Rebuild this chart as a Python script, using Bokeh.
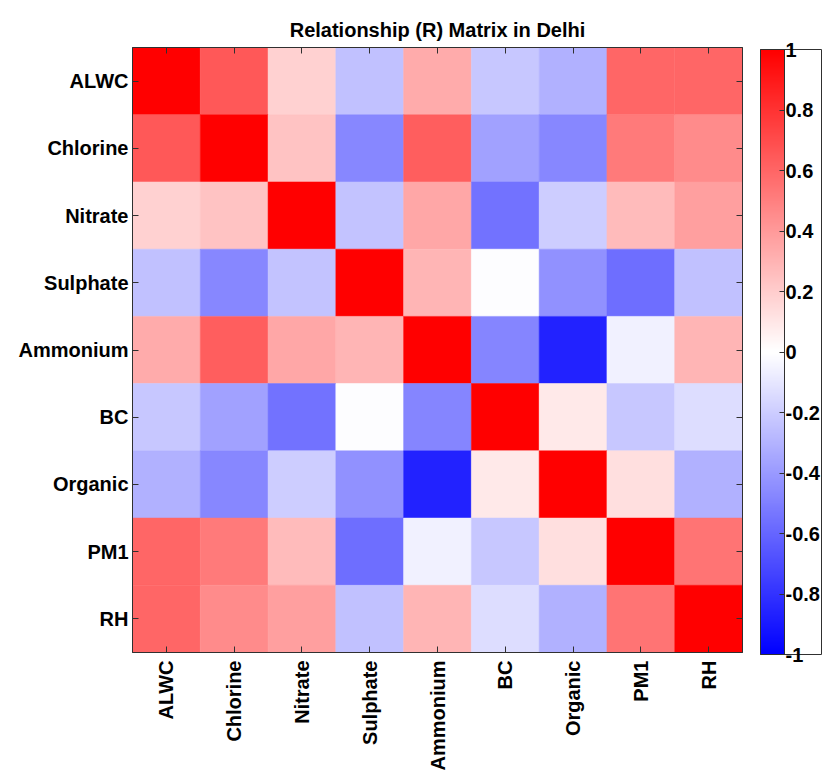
import math
from bokeh.plotting import figure
from bokeh.models import (ColumnDataSource, LinearColorMapper, ColorBar, FixedTicker,
                          LinearAxis, Range1d)
from bokeh.transform import transform
from bokeh.embed import file_html
from bokeh.resources import INLINE

variables = ["ALWC", "Chlorine", "Nitrate", "Sulphate", "Ammonium", "BC", "Organic", "PM1", "RH"]

r_alwc     = [1.00, 0.65, 0.18, -0.25, 0.33, -0.22, -0.31, 0.60, 0.60]
r_chlorine = [0.65, 1.00, 0.24, -0.47, 0.63, -0.37, -0.47, 0.52, 0.46]
r_nitrate  = [0.18, 0.24, 1.00, -0.24, 0.35, -0.55, -0.20, 0.27, 0.38]
r_sulphate = [-0.25, -0.47, -0.24, 1.00, 0.29, -0.01, -0.43, -0.57, -0.25]
r_ammonium = [0.33, 0.63, 0.35, 0.29, 1.00, -0.48, -0.86, -0.06, 0.29]
r_bc       = [-0.22, -0.37, -0.55, -0.01, -0.48, 1.00, 0.09, -0.22, -0.14]
r_organic  = [-0.31, -0.47, -0.20, -0.43, -0.86, 0.09, 1.00, 0.13, -0.31]
r_pm1      = [0.60, 0.52, 0.27, -0.57, -0.06, -0.22, 0.13, 1.00, 0.54]
r_rh       = [0.60, 0.46, 0.38, -0.25, 0.29, -0.14, -0.31, 0.54, 1.00]

rows = [r_alwc, r_chlorine, r_nitrate, r_sulphate, r_ammonium, r_bc, r_organic, r_pm1, r_rh]

cb_ticks = [-1, -0.8, -0.6, -0.4, -0.2, 0, 0.2, 0.4, 0.6, 0.8, 1]
cb_labels = ["-1", "-0.8", "-0.6", "-0.4", "-0.2", "0", "0.2", "0.4", "0.6", "0.8", "1"]

nvar = len(variables)
centers = [i + 0.5 for i in range(nvar)]
name_at = {c: v for c, v in zip(centers, variables)}

xs, ys, vs = [], [], []
for i in range(nvar):
    for j in range(nvar):
        xs.append(centers[j])
        ys.append(centers[i])
        vs.append(rows[i][j])
src = ColumnDataSource(dict(x=xs, y=ys, v=vs))

# blue - white - red colormap
n = 128
palette = []
for k in range(n):
    t = k / (n - 1)
    c = int(round(255 * t))
    palette.append("#%02x%02x%02x" % (c, c, 255))
for k in range(n):
    t = k / (n - 1)
    c = int(round(255 * (1 - t)))
    palette.append("#%02x%02x%02x" % (255, c, c))
mapper = LinearColorMapper(palette=palette, low=-1, high=1)

FONT = "Liberation Sans"
FS = "20px"

p = figure(x_range=Range1d(0, nvar), y_range=Range1d(nvar, 0),
           frame_width=610, frame_height=605,
           output_backend="svg", toolbar_location=None,
           title="Relationship (R) Matrix in Delhi",
           min_border_left=132, min_border_top=47, min_border_right=0, min_border_bottom=10)

p.rect(x="x", y="y", width=1, height=1, source=src,
       fill_color=transform("v", mapper), line_color=transform("v", mapper), line_width=0.5)

p.title.align = "center"
p.title.text_font = FONT
p.title.text_font_size = FS
p.title.text_font_style = "bold"
p.title.text_color = "black"
p.title.standoff = 14

p.grid.visible = False
p.outline_line_color = "#303030"
p.background_fill_color = "white"

for ax in [p.xaxis[0], p.yaxis[0]]:
    ax.ticker = FixedTicker(ticks=centers, minor_ticks=[])
    ax.major_label_overrides = name_at
    ax.major_tick_in = 6
    ax.major_tick_out = 0
    ax.minor_tick_in = 0
    ax.minor_tick_out = 0
    ax.major_tick_line_color = "#303030"
    ax.axis_line_color = "#303030"
    ax.major_label_text_font = FONT
    ax.major_label_text_font_size = FS
    ax.major_label_text_font_style = "bold"
    ax.major_label_text_color = "black"

p.yaxis.major_label_standoff = 4
p.xaxis.major_label_standoff = 8
p.xaxis.major_label_orientation = math.pi / 2

# inward ticks on the top and right edges (minor ticks only, no labels)
top_ax = LinearAxis(ticker=FixedTicker(ticks=[], minor_ticks=centers))
right_ax = LinearAxis(ticker=FixedTicker(ticks=[], minor_ticks=centers))
for ax in [top_ax, right_ax]:
    ax.minor_tick_in = 6
    ax.minor_tick_out = 0
    ax.minor_tick_line_color = "#303030"
    ax.major_tick_in = 0
    ax.major_tick_out = 0
    ax.axis_line_color = "#303030"
    ax.major_label_standoff = 0
p.add_layout(top_ax, "above")
p.add_layout(right_ax, "right")

cb = ColorBar(color_mapper=mapper,
              ticker=FixedTicker(ticks=cb_ticks),
              major_label_overrides={t: l for t, l in zip(cb_ticks, cb_labels)},
              width=24, height=605, location=(18, -2), padding=0, margin=0,
              major_label_text_font=FONT, major_label_text_font_size=FS,
              major_label_text_font_style="bold", major_label_text_color="black",
              border_line_color="#303030", bar_line_color="#303030",
              major_tick_out=0, major_tick_in=5, major_tick_line_color="#303030",
              label_standoff=1, background_fill_color=None)
p.add_layout(cb, "right")

open("out.html", "w").write(file_html(p, INLINE))
